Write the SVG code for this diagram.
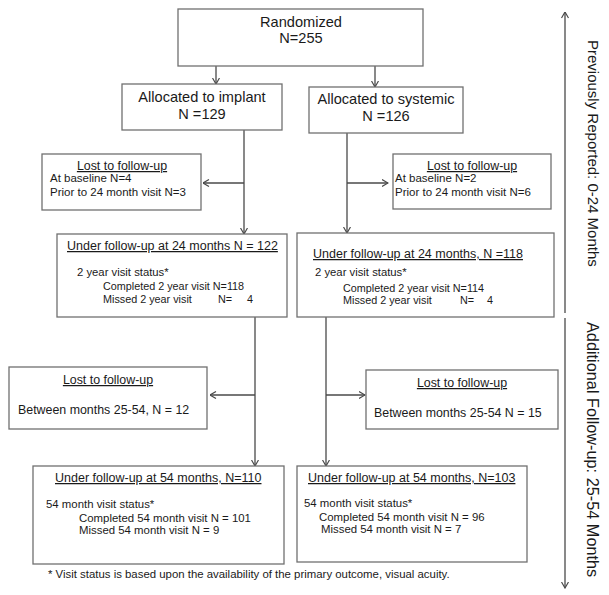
<svg xmlns="http://www.w3.org/2000/svg" width="609" height="595" viewBox="0 0 609 595">
<style>
text{font-family:"Liberation Sans",Arial,sans-serif;fill:#1a1a1a}
.box{fill:#fff;stroke:#707070;stroke-width:1.3}
.big{font-size:14.6px}
.title{font-size:12.5px;text-decoration:underline}
.lost{font-size:12.4px;text-decoration:underline}
.small{font-size:11.5px}
.mid{font-size:12.4px}
.st{font-size:10.8px}
.sh{font-size:11.3px}
.st2{font-size:11.4px}
.side{font-size:15px}
.ln{fill:none;stroke:#4a4a4a;stroke-width:1.3}
</style>
<defs>
<marker id="arr" markerUnits="userSpaceOnUse" viewBox="0 0 7 8" refX="6.5" refY="4" markerWidth="7" markerHeight="8" orient="auto">
<path d="M0.5,0.5 L6.5,4 L0.5,7.5" fill="none" stroke="#4a4a4a" stroke-width="1.2"/>
</marker>
</defs>
<rect width="609" height="595" fill="#fff"/>
<g id="connectors">
<line class="ln" x1="216" y1="66" x2="216" y2="84" marker-end="url(#arr)"/>
<line class="ln" x1="375" y1="66" x2="375" y2="87" marker-end="url(#arr)"/>
<line class="ln" x1="244" y1="130" x2="244" y2="234" marker-end="url(#arr)"/>
<line class="ln" x1="244" y1="183" x2="203" y2="183" marker-end="url(#arr)"/>
<line class="ln" x1="347" y1="133" x2="347" y2="233" marker-end="url(#arr)"/>
<line class="ln" x1="347" y1="183" x2="388" y2="183" marker-end="url(#arr)"/>
<line class="ln" x1="255" y1="317" x2="255" y2="466" marker-end="url(#arr)"/>
<line class="ln" x1="255" y1="395" x2="210" y2="395" marker-end="url(#arr)"/>
<line class="ln" x1="326" y1="317" x2="326" y2="466" marker-end="url(#arr)"/>
<line class="ln" x1="326" y1="395" x2="365" y2="395" marker-end="url(#arr)"/>
<line class="ln" x1="565" y1="313" x2="565" y2="12" marker-end="url(#arr)"/>
<line class="ln" x1="565" y1="318" x2="565" y2="588" marker-end="url(#arr)"/>
</g>
<g id="randomized">
<rect class="box" x="178" y="9" width="245" height="57"/>
<text class="big" x="301" y="27" text-anchor="middle">Randomized</text>
<text class="big" x="301" y="43" text-anchor="middle">N=255</text>
</g>
<g id="implant">
<rect class="box" x="122" y="84" width="160" height="46"/>
<text class="big" x="202" y="102" text-anchor="middle">Allocated to implant</text>
<text class="big" x="202" y="119" text-anchor="middle">N =129</text>
</g>
<g id="systemic">
<rect class="box" x="309" y="87" width="154" height="46"/>
<text class="big" x="386" y="104" text-anchor="middle">Allocated to systemic</text>
<text class="big" x="386" y="121" text-anchor="middle">N =126</text>
</g>
<g id="lost-implant-24">
<rect class="box" x="42" y="154" width="159" height="56"/>
<text class="lost" x="122" y="170" text-anchor="middle">Lost to follow-up</text>
<text class="small" x="50" y="182">At baseline N=4</text>
<text class="small" x="50" y="196">Prior to 24 month visit N=3</text>
</g>
<g id="lost-systemic-24">
<rect class="box" x="393" y="154" width="158" height="55"/>
<text class="lost" x="472" y="170" text-anchor="middle">Lost to follow-up</text>
<text class="small" x="395" y="182">At baseline N=2</text>
<text class="small" x="395" y="196">Prior to 24 month visit N=6</text>
</g>
<g id="implant-24">
<rect class="box" x="57" y="234" width="230" height="83"/>
<text class="title" x="67" y="250">Under follow-up at 24 months N = 122</text>
<text class="sh" x="77" y="276">2 year visit status*</text>
<text class="st" x="103" y="290">Completed 2 year visit N=118</text>
<text class="st" x="103" y="303">Missed 2 year visit</text>
<text class="st" x="218" y="303">N=</text>
<text class="st" x="253" y="303" text-anchor="end">4</text>
</g>
<g id="systemic-24">
<rect class="box" x="297" y="233" width="257" height="84"/>
<text class="title" x="313" y="258">Under follow-up at 24 months, N =118</text>
<text class="sh" x="315" y="276">2 year visit status*</text>
<text class="st" x="343" y="292">Completed 2 year visit N=114</text>
<text class="st" x="343" y="304">Missed 2 year visit</text>
<text class="st" x="460" y="304">N=</text>
<text class="st" x="493" y="304" text-anchor="end">4</text>
</g>
<g id="lost-implant-54">
<rect class="box" x="9" y="367" width="198" height="62"/>
<text class="lost" x="108" y="384" text-anchor="middle">Lost to follow-up</text>
<text class="mid" x="18" y="414">Between months 25-54, N = 12</text>
</g>
<g id="lost-systemic-54">
<rect class="box" x="366" y="370" width="192" height="59"/>
<text class="lost" x="462" y="387" text-anchor="middle">Lost to follow-up</text>
<text class="mid" x="374" y="417">Between months 25-54 N = 15</text>
</g>
<g id="implant-54">
<rect class="box" x="33" y="466" width="251" height="98"/>
<text class="title" x="55" y="482">Under follow-up at 54 months, N=110</text>
<text class="st2" x="46" y="508">54 month visit status*</text>
<text class="st2" x="79" y="522">Completed 54 month visit N = 101</text>
<text class="st2" x="79" y="534">Missed 54 month visit N = 9</text>
</g>
<g id="systemic-54">
<rect class="box" x="297" y="466" width="230" height="96"/>
<text class="title" x="308" y="482">Under follow-up at 54 months, N=103</text>
<text class="st2" x="304" y="507">54 month visit status*</text>
<text class="st2" x="319" y="521">Completed 54 month visit N = 96</text>
<text class="st2" x="321" y="533">Missed 54 month visit N = 7</text>
</g>
<g id="footnote">
<text class="st2" x="48" y="578">* Visit status is based upon the availability of the primary outcome, visual acuity.</text>
</g>
<g id="side-labels">
<text class="side" transform="translate(588,40) rotate(90)">Previously Reported: 0-24 Months</text>
<text style="font-size:16.3px" transform="translate(587,322) rotate(90)">Additional Follow-up: 25-54 Months</text>
</g>
</svg>
